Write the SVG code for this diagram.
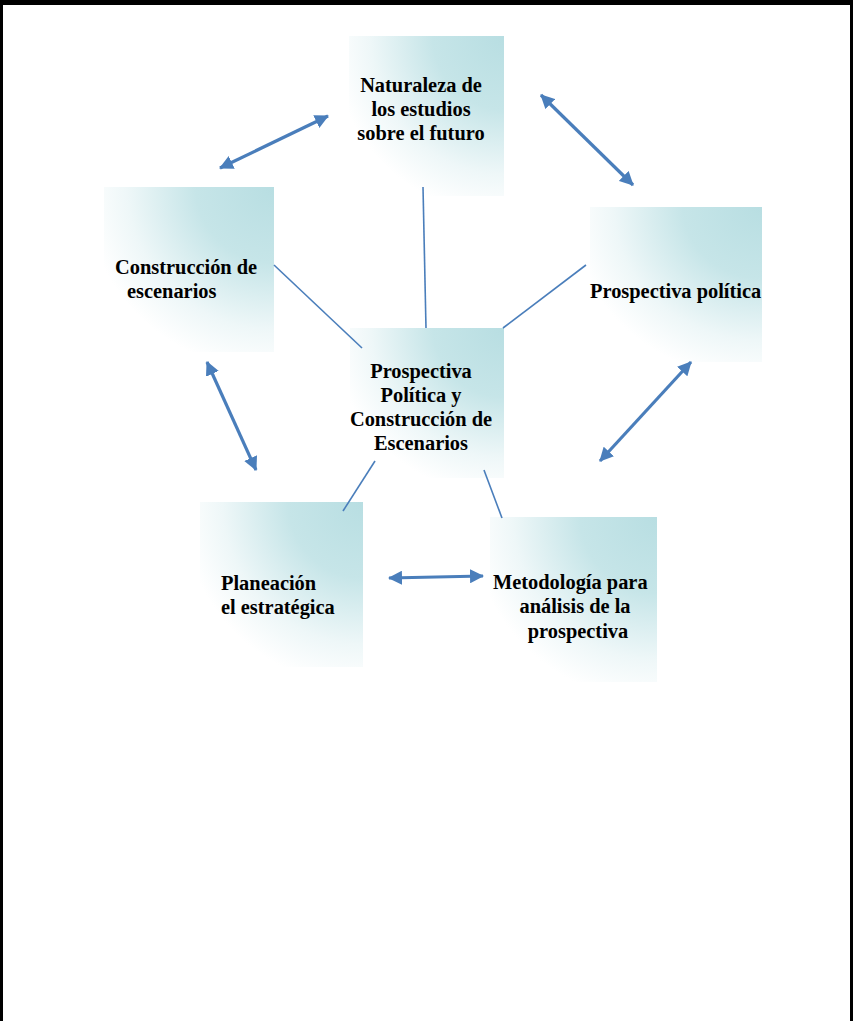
<svg xmlns="http://www.w3.org/2000/svg" width="853" height="1021" viewBox="0 0 853 1021">
<style>
.t{font-family:"Liberation Serif","Times New Roman",serif;font-weight:bold;font-size:20.4px;fill:#000}
.c{text-anchor:middle}
.ln{stroke:#4A7EBB;stroke-width:1.6;fill:none}
.ar{stroke:#4A7EBB;stroke-width:3.2;fill:none;marker-start:url(#ah);marker-end:url(#ah)}
.box{fill:url(#g)}
</style>
<defs>
<radialGradient id="g" cx="1" cy="0" r="1.15" fx="1" fy="0">
<stop offset="0" stop-color="#B8DEE2"/>
<stop offset="0.4" stop-color="#C6E5E8"/>
<stop offset="0.75" stop-color="#EEF7F8"/>
<stop offset="0.97" stop-color="#FFFFFF"/>
</radialGradient>
<marker id="ah" viewBox="0 0 14 14" refX="13" refY="7" markerWidth="14" markerHeight="14" markerUnits="userSpaceOnUse" orient="auto-start-reverse">
<path d="M0,0 L14,7 L0,14 z" fill="#4A7EBB"/>
</marker>
</defs>
<rect x="0" y="0" width="853" height="1021" fill="#fff"/>
<g id="border" fill="#000">
<rect x="0" y="0" width="853" height="5"/>
<rect x="0" y="0" width="3" height="1021"/>
<rect x="850" y="0" width="3" height="1021"/>
</g>
<g id="n-naturaleza">
<rect class="box" x="349" y="36" width="155" height="160"/>
<text class="t c" x="421" y="92">Naturaleza de</text>
<text class="t c" x="421" y="116">los estudios</text>
<text class="t c" x="421" y="140">sobre el futuro</text>
</g>
<g id="n-construccion">
<rect class="box" x="104" y="187" width="170" height="165"/>
<text class="t" x="115" y="274">Construcción de</text>
<text class="t" x="127" y="298">escenarios</text>
</g>
<g id="n-prospectiva">
<rect class="box" x="590" y="207" width="172" height="155"/>
<text class="t" x="590" y="298">Prospectiva política</text>
</g>
<g id="n-central">
<rect class="box" x="350" y="328" width="154" height="150"/>
<text class="t c" x="421" y="378">Prospectiva</text>
<text class="t c" x="421" y="402">Política y</text>
<text class="t c" x="421" y="426">Construcción de</text>
<text class="t c" x="421" y="450">Escenarios</text>
</g>
<g id="n-planeacion">
<rect class="box" x="200" y="502" width="163" height="165"/>
<text class="t" x="221" y="590">Planeación</text>
<text class="t" x="221" y="614">el estratégica</text>
</g>
<g id="n-metodologia">
<rect class="box" x="490" y="517" width="167" height="165"/>
<text class="t" x="493" y="589">Metodología para</text>
<text class="t c" x="575" y="613">análisis de la</text>
<text class="t c" x="578" y="638">prospectiva</text>
</g>
<g id="connectors">
<line class="ln" x1="423" y1="187" x2="426" y2="328"/>
<line class="ln" x1="274" y1="265" x2="362" y2="348"/>
<line class="ln" x1="586" y1="265" x2="503" y2="328"/>
<line class="ln" x1="375" y1="461" x2="343" y2="511"/>
<line class="ln" x1="484" y1="470" x2="502" y2="518"/>
<line class="ar" x1="220" y1="168" x2="328" y2="116"/>
<line class="ar" x1="541" y1="95" x2="633" y2="185"/>
<line class="ar" x1="207" y1="362" x2="256" y2="470"/>
<line class="ar" x1="691" y1="362" x2="600" y2="461"/>
<line class="ar" x1="389" y1="578" x2="483" y2="576"/>
</g>
</svg>
